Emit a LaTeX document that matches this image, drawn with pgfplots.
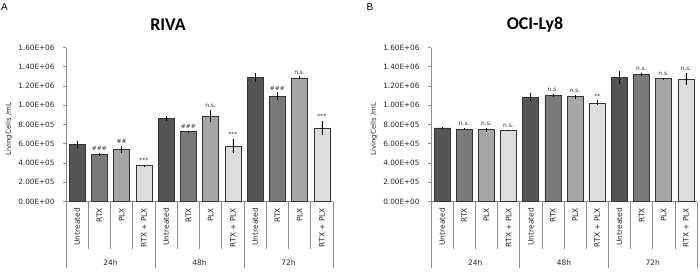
\documentclass[border=0pt]{standalone}
\usepackage{pgfplots}
\pgfplotsset{compat=1.18}
\usepackage{pgfplotstable}
\usepackage{fontspec}
\setmainfont{DejaVu Sans}
\newfontfamily\titlefont{Carlito}
\newfontfamily\panelfont{Liberation Sans}
\definecolor{cU}{HTML}{555555}
\definecolor{cR}{HTML}{7A7A7A}
\definecolor{cP}{HTML}{A6A6A6}
\definecolor{cC}{HTML}{DDDDDD}
\definecolor{axgray}{HTML}{8C8C8C}

% g: group (0=24h,1=48h,2=72h); u=Untreated, r=RTX, p=PLX, c=RTX+PLX; *e = error
\pgfplotstableread{
g u ue r re p pe c ce
0 592000 40000 487000 18000 540000 40000 372000 6000
1 862000 30000 725000 8000 890000 65000 575000 75000
2 1290000 50000 1095000 40000 1285000 15000 765000 75000
}\riva
\pgfplotstableread{
g u ue r re p pe c ce
0 765000 5000 752000 10000 745000 18000 738000 5000
1 1085000 45000 1100000 15000 1088000 18000 1025000 25000
2 1290000 70000 1318000 18000 1275000 12000 1273000 60000
}\ocily

\pgfplotsset{
 panel/.style={
  anchor=south west, scale only axis, height=154bp,
  ymin=0, ymax=1600000, xmin=-0.5, xmax=11.5,
  axis x line*=bottom, axis y line*=left,
  axis line style={-, draw=axgray, line width=0.6pt},
  ytick={0,200000,...,1600000},
  yticklabels={0.00E+00,2.00E+05,4.00E+05,6.00E+05,8.00E+05,1.00E+06,1.20E+06,1.40E+06,1.60E+06},
  scaled y ticks=false,
  yticklabel style={font=\fontsize{7.3}{8}\selectfont, text=black!85, xshift=-5bp},
  xtick={0,...,11},
  xticklabels={Untreated,RTX,PLX,RTX + PLX,Untreated,RTX,PLX,RTX + PLX,Untreated,RTX,PLX,RTX + PLX},
  xticklabel style={rotate=90, anchor=east, font=\fontsize{7.5}{9}\selectfont, text=black!85},
  x tick style={draw=none},
  y tick style={draw=axgray, line width=0.6pt},
  tick align=outside, major tick length=3bp,
  clip=false,
 },
 barser/.style={ybar, bar width=16bp, bar shift=0pt, fill=#1, draw=black!80, line width=0.6pt,
   error bars/.cd, y dir=both, y explicit, error mark=none,
   error bar style={black, line width=0.7pt}},
 annot/.style={draw=none, mark=none, nodes near coords, point meta=explicit symbolic,
   nodes near coords style={anchor=south, font=\fontsize{6}{7}\selectfont, text=black!80, yshift=1bp, inner sep=1bp}},
}

\newcommand{\decor}{%
  \pgfplotsinvokeforeach{0.5,1.5,2.5,4.5,5.5,6.5,8.5,9.5,10.5}{\draw[axgray, line width=0.6pt] (axis cs:##1,0) -- ([yshift=-47bp]axis cs:##1,0);}
  \pgfplotsinvokeforeach{-0.5,3.5,7.5,11.5}{\draw[axgray, line width=0.6pt] (axis cs:##1,0) -- ([yshift=-66bp]axis cs:##1,0);}
  \node[font=\fontsize{7.5}{9}\selectfont, text=black!85] at ([yshift=-61bp]axis cs:1.5,0) {24h};
  \node[font=\fontsize{7.5}{9}\selectfont, text=black!85] at ([yshift=-61bp]axis cs:5.5,0) {48h};
  \node[font=\fontsize{7.5}{9}\selectfont, text=black!85] at ([yshift=-61bp]axis cs:9.5,0) {72h};
}

\begin{document}
\begin{tikzpicture}
\useasboundingbox (0,0) rectangle (700bp,277bp);

\node[font=\panelfont\fontsize{10}{12}\selectfont] at (4.5bp,270bp) {A};
\node[font=\panelfont\fontsize{10}{12}\selectfont] at (370bp,270bp) {B};
\node[font=\titlefont\bfseries\fontsize{18}{20}\selectfont] at (168bp,252bp) {RIVA};
\node[font=\titlefont\bfseries\fontsize{18}{20}\selectfont] at (535bp,252bp) {OCI-Ly8};
\node[rotate=90, font=\fontsize{7}{8}\selectfont, text=black!85] at (9bp,148bp) {LivingCells /mL};
\node[rotate=90, font=\fontsize{7}{8}\selectfont, text=black!85] at (374bp,148bp) {LivingCells /mL};

\begin{axis}[panel, at={(66bp,75.5bp)}, width=267bp]
\addplot[barser=cU] table[x expr=\thisrow{g}*4+0, y=u, y error=ue] {\riva};
\addplot[barser=cR] table[x expr=\thisrow{g}*4+1, y=r, y error=re] {\riva};
\addplot[barser=cP] table[x expr=\thisrow{g}*4+2, y=p, y error=pe] {\riva};
\addplot[barser=cC] table[x expr=\thisrow{g}*4+3, y=c, y error=ce] {\riva};
\addplot[annot] coordinates {
 (1,505000) [\#\#\#] (2,580000) [\#\#] (3,378000) [***]
 (5,733000) [\#\#\#] (6,955000) [n.s.] (7,650000) [***]
 (9,1135000) [\#\#\#] (10,1300000) [n.s.] (11,840000) [***]
};
\decor
\end{axis}

\begin{axis}[panel, at={(431bp,75.5bp)}, width=266bp]
\addplot[barser=cU] table[x expr=\thisrow{g}*4+0, y=u, y error=ue] {\ocily};
\addplot[barser=cR] table[x expr=\thisrow{g}*4+1, y=r, y error=re] {\ocily};
\addplot[barser=cP] table[x expr=\thisrow{g}*4+2, y=p, y error=pe] {\ocily};
\addplot[barser=cC] table[x expr=\thisrow{g}*4+3, y=c, y error=ce] {\ocily};
\addplot[annot] coordinates {
 (1,762000) [n.s.] (2,763000) [n.s.] (3,743000) [n.s.]
 (5,1115000) [n.s.] (6,1106000) [n.s.] (7,1050000) [**]
 (9,1336000) [n.s.] (10,1287000) [n.s.] (11,1333000) [n.s.]
};
\decor
\end{axis}
\end{tikzpicture}
\end{document}
